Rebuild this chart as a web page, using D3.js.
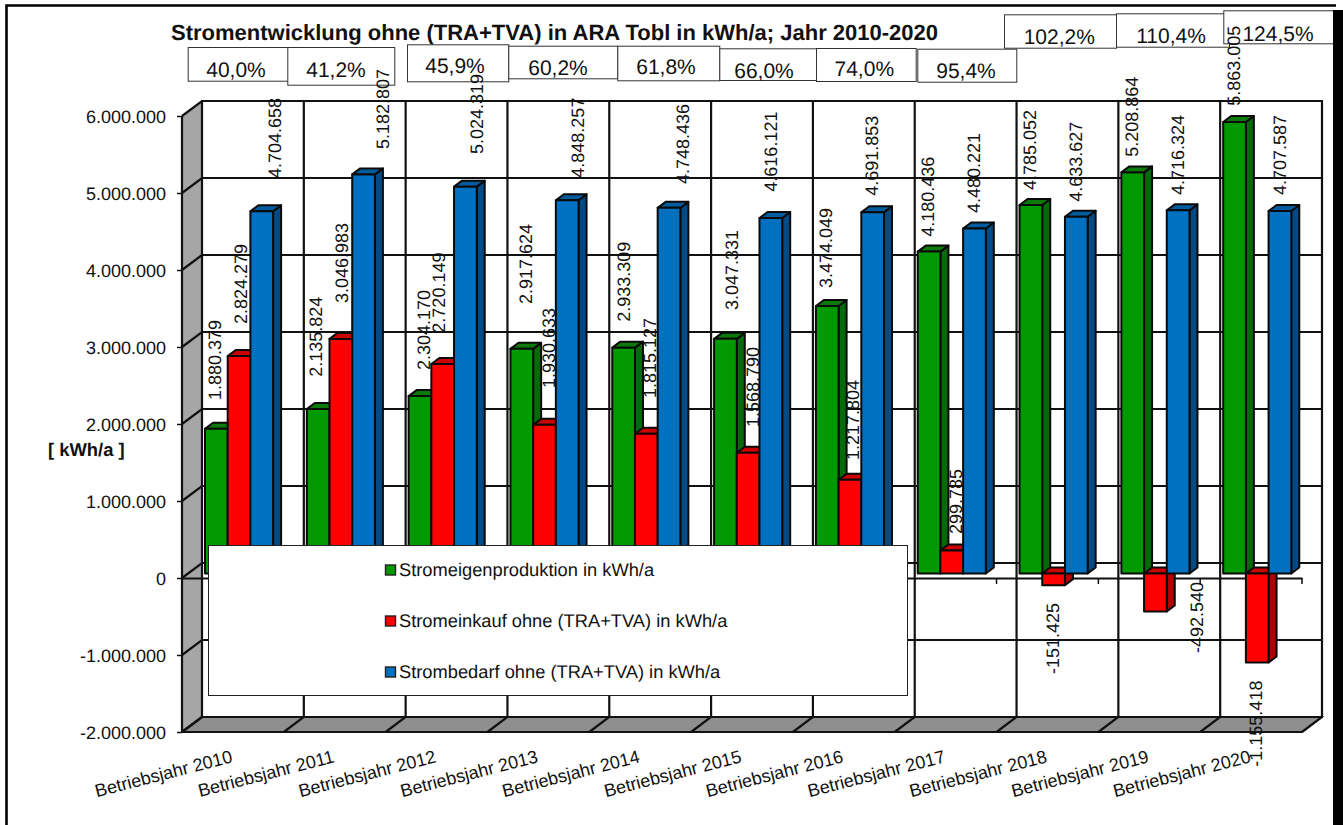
<!DOCTYPE html>
<html>
<head>
<meta charset="utf-8">
<script src="https://d3js.org/d3.v7.min.js"></script>
<style>
html,body{margin:0;padding:0;background:#fff;overflow:hidden}
text{font-family:"Liberation Sans",Arial,sans-serif;fill:#111;text-rendering:geometricPrecision}
</style>
</head>
<body>
<svg id="c" width="1343" height="825"></svg>
<script>
// ---- data ----
const categories = ["Betriebsjahr 2010","Betriebsjahr 2011","Betriebsjahr 2012","Betriebsjahr 2013","Betriebsjahr 2014","Betriebsjahr 2015","Betriebsjahr 2016","Betriebsjahr 2017","Betriebsjahr 2018","Betriebsjahr 2019","Betriebsjahr 2020"];
const eigenproduktion = [1880379,2135824,2304170,2917624,2933309,3047331,3474049,4180436,4785052,5208864,5863005];
const einkauf = [2824279,3046983,2720149,1930633,1815127,1568790,1217804,299785,-151425,-492540,-1155418];
const bedarf = [4704658,5182807,5024319,4848257,4748436,4616121,4691853,4480221,4633627,4716324,4707587];
const percentLabels = ["40,0%","41,2%","45,9%","60,2%","61,8%","66,0%","74,0%","95,4%","102,2%","110,4%","124,5%"];
const seriesNames = ["Stromeigenproduktion in kWh/a","Stromeinkauf ohne (TRA+TVA) in kWh/a","Strombedarf ohne (TRA+TVA) in kWh/a"];
const yTicks = [-2000000,-1000000,0,1000000,2000000,3000000,4000000,5000000,6000000];
const titleText = "Stromentwicklung ohne (TRA+TVA) in ARA Tobl in kWh/a; Jahr 2010-2020";
const yAxisTitle = "[ kWh/a ]";

// ---- layout and style (kept apart from the values) ----
const frontL = 182, frontR = 1302, frontTop = 116, frontBottom = 732;
const depthX = 20, depthY = 15;
const barInset = 23, barW = 22.7, barDX = 8, barDY = 6, baseDY = 4.5;
const palette = [
  {front:"#009900", side:"#06690a", top:"#0b7a0b"},
  {front:"#ff0000", side:"#b00000", top:"#cc0000"},
  {front:"#0070c0", side:"#004a86", top:"#005c9e"}
];
// hand-placed offsets of the value labels, relative to their bars [dx, dy]
const labelNudges = [
  [[-2.1,-28.7],[-2.2,-32.3],[3.3,-26.1],[4.1,-44.8],[0.3,-25.9],[6.2,-28.9],[-1.3,-18],[-1.1,-14.9],[-0.9,-15.1],[-0.8,-15.7],[-0.6,-16.3]],
  [[2,-32],[0.9,-35.9],[-3.6,-31.4],[4.5,-36.8],[3.7,-35.7],[4.9,-25.7],[3.1,-19.7],[4,-16.4],[-0.8,88.8],[41.3,41.6],[-1.2,104.2]],
  [[13.3,-33.2],[19.2,-25.4],[11.4,-32.6],[10.8,-22.5],[14,-23.9],[-0.1,-26.4],[-0.9,-16.5],[-0.4,-15.5],[-0.2,-15],[-0.1,-15.3],[0.1,-16]]
];
// percent box placement [x0, x1, y0, y1, textCentreX, baselineY]
const percentBoxes = [
  [187.7,289.3,47,80.7,236,77],[287.3,394.3,47,84.7,336,77],[407,508.3,44.3,81.3,455,73],
  [508.3,617.3,45.7,78.3,558,75],[617.3,719.3,45.7,80.3,666,74.3],[719.3,816,48.3,80,764,77.7],
  [816,915.7,48,81,864.3,76],[917.3,1016.3,48.7,81.7,966,78],[1004,1116,14.3,47.7,1059.3,44],
  [1116,1229,13.3,46.7,1171,43.3],[1223.3,1345,10.3,43.3,1278,40.7]
];

const svg = d3.select("#c");
const y = d3.scaleLinear().domain([-2000000,6000000]).range([frontBottom,frontTop]);
const x = d3.scaleBand().domain(categories).range([frontL,frontR]).padding(0);
const baseFmt = d3.formatLocale({decimal:",",thousands:".",grouping:[3],currency:["","€"],minus:"-"}).format(",d");
const fmt = v => baseFmt(v);
const pts = a => a.map(p=>p.join(",")).join(" ");

// page frame
svg.append("path").attr("d","M6.5,825V5.5H1336").attr("fill","none").attr("stroke","#000").attr("stroke-width",2.6);
svg.append("rect").attr("x",1333).attr("y",10).attr("width",10).attr("height",815).attr("fill","#000");

// walls
const backTop = frontTop-depthY, backBottom = frontBottom-depthY;
const wall = svg.append("g");
wall.append("rect").attr("x",frontL+depthX).attr("y",backTop).attr("width",frontR-frontL).attr("height",backBottom-backTop)
  .attr("fill","#fff").attr("stroke","#111").attr("stroke-width",2);
wall.append("polygon").attr("points",pts([[frontL,frontTop],[frontL+depthX,backTop],[frontL+depthX,backBottom],[frontL,frontBottom]]))
  .attr("fill","#a6a6a6").attr("stroke","none");
wall.append("polygon").attr("points",pts([[frontL,frontBottom],[frontL+depthX,backBottom],[frontR+depthX,backBottom],[frontR,frontBottom]]))
  .attr("fill","#8f8f8f").attr("stroke","#111").attr("stroke-width",1.5);

// gridlines on back wall and left wall
const grid = svg.append("g").attr("stroke","#111").attr("stroke-width",2.2).attr("fill","none");
grid.selectAll(".h").data(yTicks).join("path")
  .attr("d",d=>`M${frontL},${y(d)}L${frontL+depthX},${y(d)-depthY}H${frontR+depthX}`);
const boundaries = categories.map(c=>x(c)).concat([frontR]);
grid.selectAll(".v").data(boundaries).join("path")
  .attr("d",d=>`M${d},${frontBottom}L${d+depthX},${backBottom}V${backTop}`);
grid.append("path").attr("d",`M${frontL},${frontTop}V${frontBottom}H${frontR}`);

// y axis
const yAxis = d3.axisLeft(y).tickValues(yTicks).tickSize(5).tickPadding(11).tickFormat(fmt);
const gy = svg.append("g").attr("transform",`translate(${frontL},0)`).call(yAxis);
gy.select(".domain").remove();
gy.selectAll("line").attr("stroke","#111").attr("stroke-width",1.5);
gy.selectAll("text").attr("font-size",18).style("font-family",'"Liberation Sans"').attr("fill","#111").attr("dy","0.37em");

// zero axis with ticks
const xZero = d3.axisBottom(x).tickSize(6).tickFormat("").tickSizeOuter(0);
const gx0 = svg.append("g").attr("transform",`translate(0,${y(0)})`).call(xZero);
gx0.select(".domain").attr("stroke","#111").attr("stroke-width",2);
gx0.selectAll(".tick").remove();
gx0.selectAll(".t0").data(boundaries).join("line")
  .attr("x1",d=>d).attr("x2",d=>d).attr("y1",0).attr("y2",6).attr("stroke","#111").attr("stroke-width",1.5);

// bars
const allSeries = [eigenproduktion, einkauf, bedarf];
allSeries.forEach((vals,s)=>{
  const g = svg.append("g");
  const rows = vals.map((v,i)=>({v,i,x0:x(categories[i])+barInset+s*barW,
    yT:y(Math.max(v,0))-baseDY, yB:y(Math.min(v,0))-baseDY}));
  const sel = g.selectAll("g").data(rows).join("g")
    .attr("stroke","#0a0a0a").attr("stroke-width",2).attr("stroke-linejoin","round");
  sel.append("polygon").attr("fill",palette[s].side)
    .attr("points",d=>pts([[d.x0+barW,d.yT],[d.x0+barW+barDX,d.yT-barDY],[d.x0+barW+barDX,d.yB-barDY],[d.x0+barW,d.yB]]));
  sel.append("polygon").attr("fill",palette[s].top)
    .attr("points",d=>pts([[d.x0,d.yT],[d.x0+barDX,d.yT-barDY],[d.x0+barW+barDX,d.yT-barDY],[d.x0+barW,d.yT]]));
  sel.append("rect").attr("fill",palette[s].front)
    .attr("x",d=>d.x0).attr("y",d=>d.yT).attr("width",barW).attr("height",d=>d.yB-d.yT);
});

// category labels
const xAxis = d3.axisBottom(x).tickSize(0).tickSizeOuter(0);
const gx = svg.append("g").attr("transform",`translate(0,${frontBottom})`).call(xAxis);
gx.select(".domain").remove();
gx.selectAll("text").attr("font-size",18).attr("text-anchor","end").attr("fill","#111")
  .style("font-family",'"Liberation Sans"')
  .attr("y",0).attr("dy",0)
  .attr("transform","translate(0.5,30) rotate(-14.5)");

// legend
svg.append("rect").attr("x",208.5).attr("y",545.5).attr("width",699).attr("height",150)
  .attr("fill","#fff").attr("stroke","#222").attr("stroke-width",1);
const legendY = d3.scalePoint().domain(seriesNames).range([570,672]);
const lg = svg.append("g").selectAll("g").data(seriesNames).join("g")
  .attr("transform",d=>`translate(385.5,${legendY(d)})`);
lg.append("rect").attr("y",-5).attr("width",10).attr("height",10)
  .attr("fill",(d,i)=>palette[i].front).attr("stroke","#222").attr("stroke-width",1.4);
lg.append("text").attr("x",13.5).attr("dy","0.35em").attr("font-size",18.3).text(d=>d);

// title and axis title
svg.append("text").attr("x",171).attr("y",39.5).attr("font-size",22).attr("font-weight","bold").text(titleText);
svg.append("text").attr("x",48).attr("y",456).attr("font-size",18.4).attr("font-weight","bold").text(yAxisTitle);

// percent boxes
const pb = svg.append("g").selectAll("g").data(percentLabels).join("g");
pb.append("rect").attr("x",(d,i)=>percentBoxes[i][0]+.5).attr("y",(d,i)=>percentBoxes[i][2]+.5)
  .attr("width",(d,i)=>percentBoxes[i][1]-percentBoxes[i][0]).attr("height",(d,i)=>percentBoxes[i][3]-percentBoxes[i][2])
  .attr("fill","#fff").attr("stroke","#333").attr("stroke-width",1);
pb.append("text").attr("x",(d,i)=>percentBoxes[i][4]).attr("y",(d,i)=>percentBoxes[i][5])
  .attr("text-anchor","middle").attr("font-size",21).text(d=>d);
// keep the page's right edge on top of the last box
svg.append("rect").attr("x",1333).attr("y",10).attr("width",10).attr("height",815).attr("fill","#000");

// value labels
allSeries.forEach((vals,s)=>{
  svg.append("g").selectAll("text").data(vals).join("text")
    .attr("font-size",18).attr("dy","0.35em")
    .attr("transform",(v,i)=>{
      const cx = x(categories[i])+barInset+s*barW+barW/2+labelNudges[s][i][0];
      const cy = y(v)-baseDY+labelNudges[s][i][1];
      return `translate(${cx},${cy}) rotate(-90)`;
    })
    .text(v=>fmt(v));
});
</script>
</body>
</html>
